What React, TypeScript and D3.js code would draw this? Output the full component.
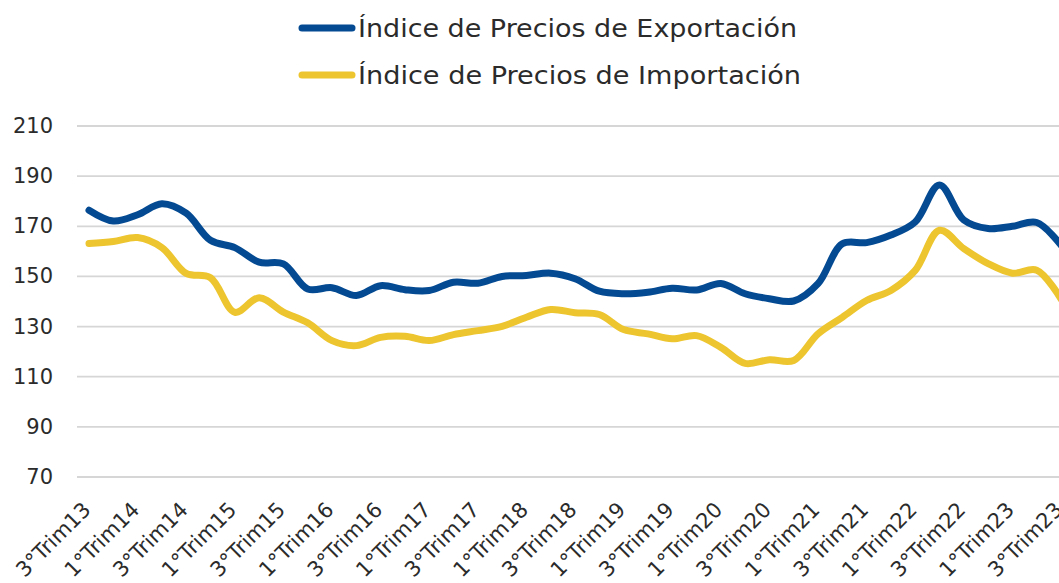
import React from "react";
import * as d3 from "d3";

const categories = [
  "3°Trim13", "4°Trim13",
  "1°Trim14", "2°Trim14", "3°Trim14", "4°Trim14",
  "1°Trim15", "2°Trim15", "3°Trim15", "4°Trim15",
  "1°Trim16", "2°Trim16", "3°Trim16", "4°Trim16",
  "1°Trim17", "2°Trim17", "3°Trim17", "4°Trim17",
  "1°Trim18", "2°Trim18", "3°Trim18", "4°Trim18",
  "1°Trim19", "2°Trim19", "3°Trim19", "4°Trim19",
  "1°Trim20", "2°Trim20", "3°Trim20", "4°Trim20",
  "1°Trim21", "2°Trim21", "3°Trim21", "4°Trim21",
  "1°Trim22", "2°Trim22", "3°Trim22", "4°Trim22",
  "1°Trim23", "2°Trim23", "3°Trim23",
];

const exportIndex = [
  176.4, 172.1, 174.6, 179.0, 175.2, 164.4, 161.5, 155.7, 155.0, 145.0,
  145.5, 142.4, 146.3, 144.7, 144.4, 147.7, 147.3, 150.0, 150.4, 151.3,
  149.1, 144.1, 143.1, 143.7, 145.3, 144.6, 147.2, 143.1, 141.1, 140.2,
  147.1, 163.0, 163.5, 166.5, 171.7, 186.5, 172.5, 169.1, 170.0, 171.5,
  162.5,
];

const importIndex = [
  163.1, 163.9, 165.5, 161.5, 151.2, 149.5, 135.7, 141.5, 135.8, 131.5,
  124.4, 122.4, 125.7, 126.1, 124.4, 126.8, 128.4, 130.1, 133.7, 136.8,
  135.5, 134.8, 128.8, 127.1, 125.1, 126.4, 121.7, 115.3, 116.8, 116.5,
  127.1, 133.7, 140.4, 144.4, 152.4, 168.4, 161.1, 155.1, 151.3, 152.5,
  141.0,
];

const yTicks = [70, 90, 110, 130, 150, 170, 190, 210];

const seriesNames = [
  "Índice de Precios de Exportación",
  "Índice de Precios de Importación",
];
const seriesColors = ["#034a93", "#edc52f"];

const W = 1059;
const H = 583;
const FONT = "'DejaVu Sans', 'Noto Sans', sans-serif";

export default function App() {
  const x = d3.scalePoint<string>().domain(categories).range([89, 1061]);
  const y = d3.scaleLinear().domain([70, 210]).range([477, 126]);

  const line = d3
    .line<number>()
    .x((_, i) => x(categories[i]) as number)
    .y((d) => y(d))
    .curve(d3.curveCatmullRom.alpha(0.5));

  const series = [exportIndex, importIndex];
  const labelCats = categories.filter((_, i) => i % 2 === 0);

  return (
    <svg
      width={W}
      height={H}
      style={{ position: "absolute", left: 0, top: 0, background: "#fff" }}
      fontFamily={FONT}
    >
      {/* legend */}
      {seriesNames.map((name, i) => (
        <g key={name}>
          <line
            x1={302}
            x2={352}
            y1={28 + i * 47}
            y2={28 + i * 47}
            stroke={seriesColors[i]}
            strokeWidth={7}
            strokeLinecap="round"
          />
          <text
            x={358}
            y={37 + i * 47}
            fontSize={24}
            fill="#2b2b2b"
            textLength={i === 0 ? 439 : 443}
            lengthAdjust="spacingAndGlyphs"
          >
            {name}
          </text>
        </g>
      ))}

      {/* grid + y labels */}
      {yTicks.map((t) => (
        <g key={t}>
          <line
            x1={77}
            x2={W}
            y1={y(t)}
            y2={y(t)}
            stroke="#d6d6d6"
            strokeWidth={1.8}
          />
          <text
            x={53}
            y={y(t)}
            textAnchor="end"
            dominantBaseline="central"
            fontSize={21}
            fill="#2b2b2b"
          >
            {t}
          </text>
        </g>
      ))}

      {/* x labels */}
      {labelCats.map((c) => {
        const px = (x(c) as number) + 3;
        const py = 511;
        return (
          <text
            key={c}
            x={px}
            y={py}
            transform={`rotate(-45, ${px}, ${py})`}
            textAnchor="end"
            fontSize={21}
            fill="#2b2b2b"
          >
            {c}
          </text>
        );
      })}

      {/* lines */}
      {series.map((s, i) => (
        <path
          key={i}
          d={line(s) || ""}
          fill="none"
          stroke={seriesColors[i]}
          strokeWidth={7}
          strokeLinejoin="round"
          strokeLinecap="round"
        />
      ))}
    </svg>
  );
}
